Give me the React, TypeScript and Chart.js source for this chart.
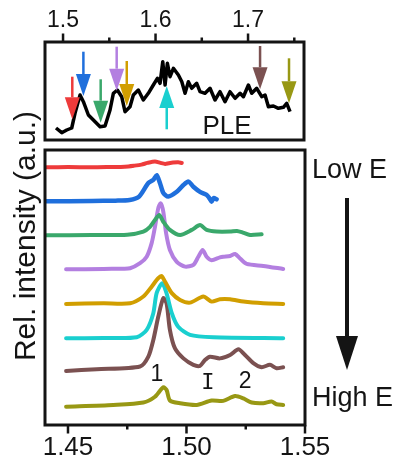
import React, { useEffect, useRef } from "react";
import { Chart, registerables } from "chart.js";

Chart.register(...registerables);

const FONT = "'Liberation Sans', Arial, Helvetica, sans-serif";
const MONO = "'DejaVu Sans Mono', monospace";
const INK = "#141414";

// ---------- Top panel: PLE ----------
const pleEnergy = [
  1.4924, 1.4986, 1.504, 1.5094, 1.513, 1.5184, 1.522, 1.5274, 1.5328, 1.54, 1.5454, 1.5508,
  1.5544, 1.5587, 1.5634, 1.567, 1.5724, 1.576, 1.5814, 1.5868, 1.5922, 1.5976, 1.602, 1.6049,
  1.6078, 1.6103, 1.6128, 1.6157, 1.6193, 1.6247, 1.6284, 1.6319, 1.6355, 1.6391, 1.6445, 1.6481,
  1.6535, 1.6589, 1.6643, 1.6697, 1.6751, 1.6805, 1.686, 1.6914, 1.695, 1.7004, 1.704, 1.7094,
  1.7148, 1.7184, 1.722, 1.7274, 1.7328, 1.7382, 1.7418, 1.7454,
];
const pleSignal = [
  12, 7.3, 10, 12, 27, 45, 38.3, 25, 20, 13.3, 14, 30, 46.7, 50, 43.3, 28.3, 33.3, 45, 50, 40,
  46.7, 55, 61.7, 56.7, 78.3, 55, 76.7, 63.3, 71.7, 65, 58.3, 46.7, 58.3, 51.7, 56.7, 48.3, 46.7,
  51.7, 40, 48.3, 38.3, 48.3, 41.7, 46.7, 43.3, 55, 46.7, 51.7, 43.3, 45, 33.3, 34, 31.7, 32.7,
  36.7, 28.3,
];
const topRange = [1.4805, 1.7605];
const topSignalRange = [0, 98];
const topTickValues = [1.5, 1.6, 1.7];
const topTickLabels = ["1.5", "1.6", "1.7"];
const topMinorTicks = [1.55, 1.65, 1.75];

const seriesColors = ["#ee3b3b", "#1f6fdc", "#3aa86b", "#b37fe0", "#d19e00", "#1acfcf", "#7b5151", "#989814"];
const arrowEnergy = [1.51, 1.522, 1.5407, 1.558, 1.5689, 1.6121, 1.713, 1.7443];
const arrowTail = [63.3, 88.3, 60.7, 93.3, 79, 10.7, 94, 81.7];
const arrowTip = [20.7, 44, 17.3, 49.3, 34, 54, 50.7, 36.7];

// ---------- Bottom panel: PL spectra ----------
const botRange = [1.4403, 1.55];
const botSignalRange = [0, 8.09];
const botTickValues = [1.45, 1.5, 1.55];
const botTickLabels = ["1.45", "1.50", "1.55"];
const botMinorTicks = [1.475, 1.525];
const seriesOffsets = [7.59, 6.59, 5.59, 4.59, 3.59, 2.56, 1.59, 0.53];

const redE = [1.441, 1.45, 1.46, 1.468, 1.474, 1.478, 1.481, 1.4835, 1.4867, 1.489, 1.491, 1.4925, 1.4943, 1.4965, 1.498];
const redI = [-0.01, 0, -0.01, 0, 0.01, 0.04, 0.07, 0.12, 0.16, 0.12, 0.09, 0.11, 0.13, 0.14, 0.12];

const blueE = [1.441, 1.46, 1.47, 1.476, 1.48, 1.4839, 1.486, 1.4874, 1.4888, 1.4902, 1.4923, 1.4959, 1.4987, 1.5008, 1.5029, 1.5057, 1.5085, 1.5095, 1.5106, 1.5115, 1.5127];
const blueI = [-0.01, 0, 0.01, 0.03, 0.13, 0.53, 0.62, 0.76, 0.53, 0.24, 0.13, 0.27, 0.47, 0.57, 0.42, 0.27, 0.18, 0.1, -0.02, 0.09, 0.05];

const greenE = [1.441, 1.46, 1.475, 1.4818, 1.4846, 1.4867, 1.4885, 1.4902, 1.493, 1.4973, 1.5022, 1.5057, 1.5085, 1.5127, 1.5184, 1.5213, 1.5238, 1.5268, 1.5317];
const greenI = [-0.01, 0, 0.01, 0.1, 0.24, 0.44, 0.59, 0.39, 0.15, 0, 0.15, 0.29, 0.15, 0.1, 0.1, 0.12, 0.07, 0, 0.02];

const purpleE = [1.4492, 1.465, 1.472, 1.4762, 1.4804, 1.4832, 1.4853, 1.4867, 1.4881, 1.4891, 1.4902, 1.4914, 1.493, 1.4959, 1.4994, 1.5029, 1.505, 1.5068, 1.5085, 1.5106, 1.5141, 1.5155, 1.5184, 1.5205, 1.5226, 1.5254, 1.5324, 1.5408];
const purpleI = [-0.01, 0, 0.01, 0.02, 0.17, 0.36, 0.76, 1.24, 1.79, 1.93, 1.69, 1.05, 0.56, 0.21, 0.07, 0.12, 0.36, 0.56, 0.36, 0.26, 0.34, 0.36, 0.38, 0.44, 0.31, 0.15, 0.09, 0];

const goldE = [1.4492, 1.465, 1.4762, 1.4818, 1.4853, 1.4881, 1.4895, 1.4909, 1.4938, 1.4973, 1.5015, 1.5071, 1.5106, 1.5141, 1.5184, 1.524, 1.5324, 1.5408];
const goldI = [-0.03, -0.01, -0.01, 0.19, 0.48, 0.73, 0.79, 0.63, 0.29, 0.09, 0.01, 0.19, 0.04, 0.11, 0.11, 0.04, -0.01, -0.03];

const cyanE = [1.4492, 1.465, 1.479, 1.4832, 1.486, 1.4874, 1.4898, 1.4916, 1.4938, 1.4965, 1.5015, 1.5113, 1.5408];
const cyanI = [-0.01, 0, 0.02, 0.24, 0.73, 1.32, 1.61, 1.31, 0.73, 0.33, 0.09, 0.02, -0.01];

const brownE = [1.4492, 1.4621, 1.4804, 1.4839, 1.486, 1.4881, 1.4902, 1.4916, 1.493, 1.4951, 1.4987, 1.5029, 1.5057, 1.5078, 1.5099, 1.5141, 1.5184, 1.5219, 1.5247, 1.5282, 1.5317, 1.5352, 1.538, 1.5408];
const brownI = [0, 0.05, 0.13, 0.42, 0.91, 1.6, 2.14, 1.99, 1.21, 0.67, 0.37, 0.18, 0.15, 0.32, 0.42, 0.37, 0.47, 0.64, 0.47, 0.23, 0.11, 0.18, 0.08, 0.11];

const oliveE = [1.4492, 1.4691, 1.4818, 1.4867, 1.4902, 1.4916, 1.493, 1.4973, 1.5043, 1.5106, 1.5155, 1.5205, 1.524, 1.5275, 1.5324, 1.5359, 1.538, 1.5408];
const oliveI = [0.01, 0.06, 0.13, 0.3, 0.58, 0.5, 0.19, 0.11, 0.06, 0.19, 0.18, 0.32, 0.25, 0.13, 0.11, 0.16, 0.08, 0.06];

const peakNames = ["1", "I", "2"];
const peakE = [1.4875, 1.509, 1.5247];
const peakY = [1.54, 1.29, 1.32];

function framePlugin(side: "top" | "bottom", major: number[], minor: number[]) {
  return {
    id: "frame_" + side,
    afterDraw(chart: any) {
      const { ctx, chartArea: a } = chart;
      const xs = chart.scales.x;
      ctx.save();
      ctx.strokeStyle = INK;
      ctx.lineWidth = 3;
      ctx.strokeRect(a.left, a.top, a.right - a.left, a.bottom - a.top);
      const y0 = side === "top" ? a.top : a.bottom;
      const dir = side === "top" ? -1 : 1;
      ctx.lineWidth = 2.5;
      const tick = (v: number, len: number) => {
        const x = xs.getPixelForValue(v);
        ctx.beginPath();
        ctx.moveTo(x, y0);
        ctx.lineTo(x, y0 + dir * (len + 1.5));
        ctx.stroke();
      };
      major.forEach((v) => tick(v, 7));
      minor.forEach((v) => tick(v, 3));
      ctx.restore();
    },
  };
}

const topAnnotations = {
  id: "topAnnotations",
  afterDatasetsDraw(chart: any) {
    const { ctx } = chart;
    const xs = chart.scales.x;
    const ys = chart.scales.y;
    ctx.save();
    arrowEnergy.forEach((e, i) => {
      const x = xs.getPixelForValue(e);
      const yTail = ys.getPixelForValue(arrowTail[i]);
      const yTip = ys.getPixelForValue(arrowTip[i]);
      const dir = Math.sign(yTip - yTail);
      const headLen = 22;
      const half = 7.5;
      const yBase = yTip - dir * headLen;
      ctx.strokeStyle = seriesColors[i];
      ctx.fillStyle = seriesColors[i];
      ctx.lineWidth = 2.5;
      ctx.beginPath();
      ctx.moveTo(x, yTail);
      ctx.lineTo(x, yBase);
      ctx.stroke();
      ctx.beginPath();
      ctx.moveTo(x - half, yBase);
      ctx.lineTo(x + half, yBase);
      ctx.lineTo(x, yTip);
      ctx.closePath();
      ctx.fill();
    });
    ctx.fillStyle = INK;
    ctx.font = `26px ${FONT}`;
    ctx.textAlign = "center";
    ctx.textBaseline = "alphabetic";
    ctx.fillText("PLE", 227, 134);
    ctx.restore();
  },
};

const bottomAnnotations = {
  id: "bottomAnnotations",
  afterDraw(chart: any) {
    const { ctx } = chart;
    const xs = chart.scales.x;
    const ys = chart.scales.y;
    ctx.save();
    ctx.fillStyle = INK;
    ctx.textAlign = "center";
    ctx.textBaseline = "alphabetic";
    peakNames.forEach((t, i) => {
      ctx.font = t === "I" ? `22px ${MONO}` : `23px ${FONT}`;
      ctx.fillText(t, xs.getPixelForValue(peakE[i]), ys.getPixelForValue(peakY[i]) + 8.2);
    });
    // y title
    ctx.save();
    ctx.translate(35, 236);
    ctx.rotate(-Math.PI / 2);
    ctx.font = `30px ${FONT}`;
    ctx.fillText("Rel. intensity (a.u.)", 0, 0);
    ctx.restore();
    // Low E -> High E
    ctx.textAlign = "left";
    ctx.font = `27px ${FONT}`;
    ctx.fillText("Low E", 312, 178);
    ctx.fillText("High E", 312, 406);
    ctx.strokeStyle = INK;
    ctx.lineWidth = 4;
    ctx.beginPath();
    ctx.moveTo(347, 198);
    ctx.lineTo(347, 340);
    ctx.stroke();
    ctx.beginPath();
    ctx.moveTo(336, 336);
    ctx.lineTo(358, 336);
    ctx.lineTo(347, 370);
    ctx.closePath();
    ctx.fill();
    ctx.restore();
  },
};

export default function App() {
  const topRef = useRef<HTMLCanvasElement>(null);
  const botRef = useRef<HTMLCanvasElement>(null);

  useEffect(() => {
    const spectraE = [redE, blueE, greenE, purpleE, goldE, cyanE, brownE, oliveE];
    const spectraI = [redI, blueI, greenI, purpleI, goldI, cyanI, brownI, oliveI];

    const top = new Chart(topRef.current as HTMLCanvasElement, {
      type: "line",
      data: {
        datasets: [
          {
            data: pleEnergy.map((e, i) => ({ x: e, y: pleSignal[i] })),
            borderColor: "#000",
            borderWidth: 3.5,
            pointRadius: 0,
            tension: 0,
            borderJoinStyle: "round",
          },
        ],
      },
      options: {
        animation: false,
        responsive: false,
        layout: { padding: { left: 45, right: 96, top: 0, bottom: 317 } },
        plugins: { legend: { display: false }, tooltip: { enabled: false } },
        scales: {
          x: {
            type: "linear",
            position: "top",
            min: topRange[0],
            max: topRange[1],
            grid: { display: false, drawTicks: false },
            border: { display: false },
            afterBuildTicks: (s: any) => {
              s.ticks = topTickValues.map((v) => ({ value: v }));
            },
            afterFit: (s: any) => {
              s.height = 42;
            },
            ticks: {
              padding: 8,
              color: INK,
              font: { family: FONT, size: 23 },
              maxRotation: 0,
              callback: (_v: any, i: number) => topTickLabels[i],
            },
          },
          y: { display: false, min: topSignalRange[0], max: topSignalRange[1] },
        },
      } as any,
      plugins: [framePlugin("top", topTickValues, topMinorTicks), topAnnotations],
    });

    const bot = new Chart(botRef.current as HTMLCanvasElement, {
      type: "line",
      data: {
        datasets: spectraE.map((E, k) => ({
          data: E.map((e, i) => ({ x: e, y: spectraI[k][i] + seriesOffsets[k] })),
          borderColor: seriesColors[k],
          borderWidth: k === 1 ? 4.5 : 4,
          pointRadius: 0,
          tension: 0.25,
          borderJoinStyle: "round",
          borderCapStyle: "round",
        })),
      },
      options: {
        animation: false,
        responsive: false,
        layout: { padding: { left: 45, right: 95, top: 150, bottom: 0 } },
        plugins: { legend: { display: false }, tooltip: { enabled: false } },
        scales: {
          x: {
            type: "linear",
            position: "bottom",
            min: botRange[0],
            max: botRange[1],
            grid: { display: false, drawTicks: false },
            border: { display: false },
            afterBuildTicks: (s: any) => {
              s.ticks = botTickValues.map((v) => ({ value: v }));
            },
            afterFit: (s: any) => {
              s.height = 32;
            },
            ticks: {
              padding: 7,
              color: INK,
              font: { family: FONT, size: 26 },
              maxRotation: 0,
              callback: (_v: any, i: number) => botTickLabels[i],
            },
          },
          y: { display: false, min: botSignalRange[0], max: botSignalRange[1] },
        },
      } as any,
      plugins: [framePlugin("bottom", botTickValues, botMinorTicks), bottomAnnotations],
    });

    return () => {
      top.destroy();
      bot.destroy();
    };
  }, []);

  return (
    <div style={{ position: "absolute", left: 0, top: 0, width: 400, height: 457, background: "#fff", overflow: "hidden" }}>
      <canvas ref={botRef} width={400} height={457} style={{ position: "absolute", left: 0, top: 0 }} />
      <canvas ref={topRef} width={400} height={457} style={{ position: "absolute", left: 0, top: 0 }} />
    </div>
  );
}
